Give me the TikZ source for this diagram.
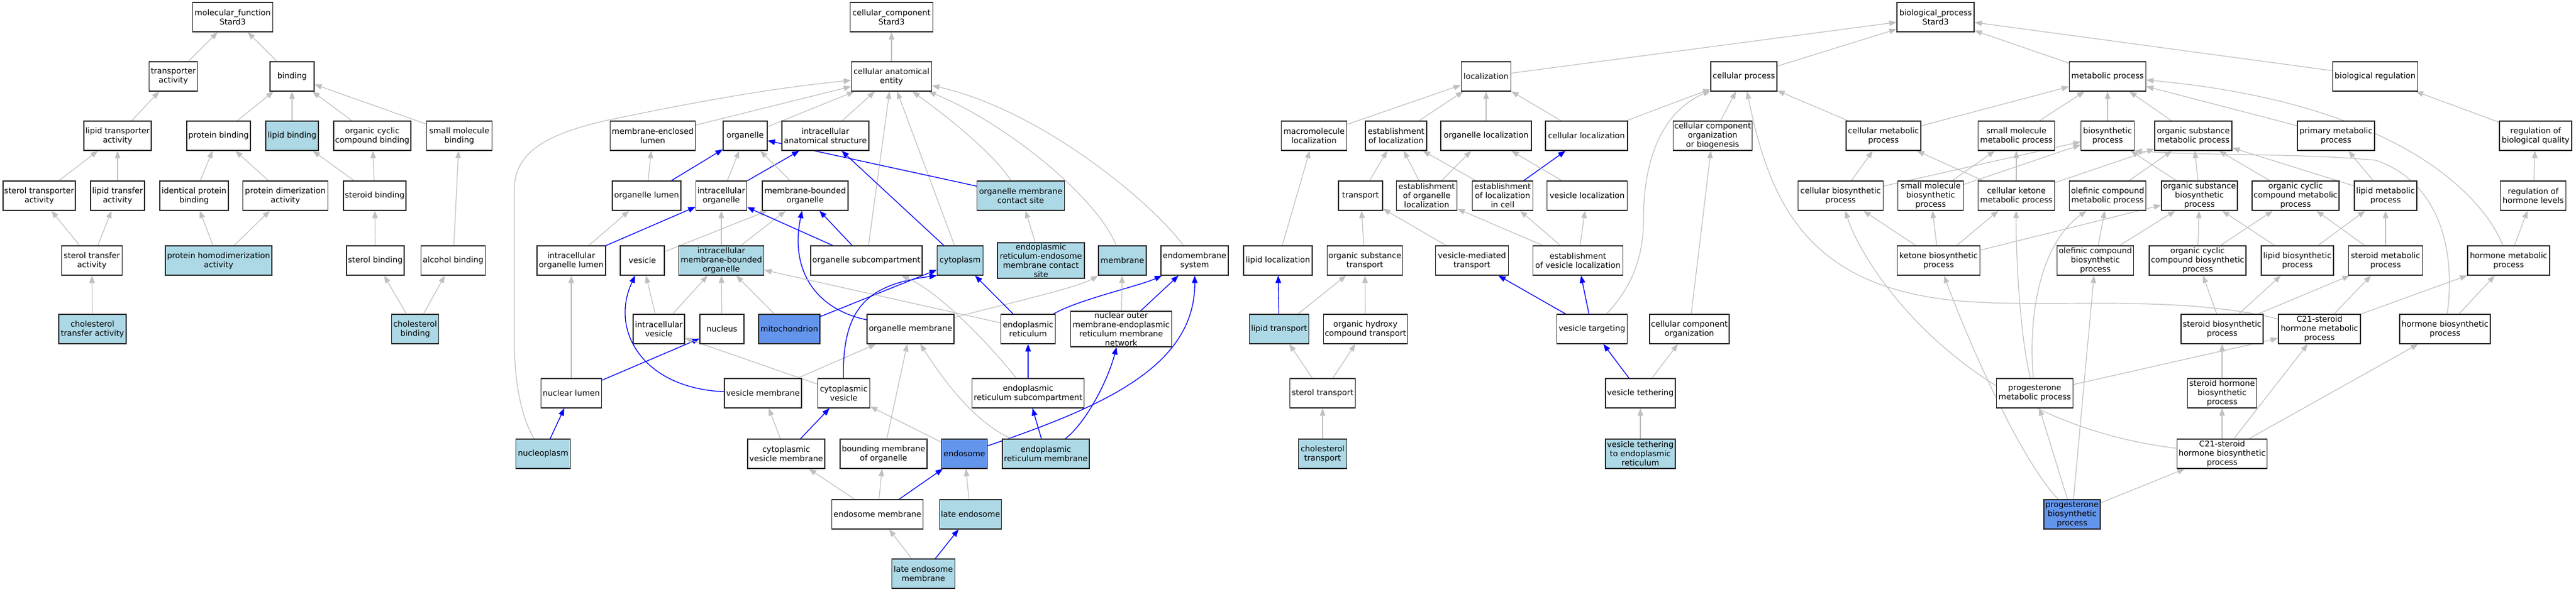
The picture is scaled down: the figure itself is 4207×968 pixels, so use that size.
\documentclass[tikz,border=0pt]{standalone}
\usepackage{fontspec}
\setmainfont{DejaVu Sans}
\usetikzlibrary{arrows.meta,backgrounds}
\definecolor{hitblue}{RGB}{173,216,230}
\definecolor{keyblue}{RGB}{100,149,237}
\definecolor{edgegray}{RGB}{192,192,192}
\newcommand\gofont{\fontsize{13}{15}\selectfont}

\begin{document}
\begin{tikzpicture}[x=1pt, y=-1pt,
    term/.style={draw=black!85, line width=1.2pt, fill=white, font=\gofont, align=center,
                 inner xsep=2pt, inner ysep=1.5pt, minimum height=48pt},
    hit/.style={term, fill=hitblue},
    key/.style={term, fill=keyblue},
    isa/.style={draw=edgegray, line width=1.2pt, -{Triangle[length=12pt,width=9pt]}},
    pof/.style={draw=blue, line width=1.3pt, -{Triangle[length=12pt,width=9pt]}}]
\useasboundingbox (0,0) rectangle (4207,968);

\node[term, minimum width=131pt] (mf) at (380,28) {molecular\_function\\Stard3};
\node[term, minimum width=79pt] (tact) at (283,125) {transporter\\activity};
\node[term, minimum width=72pt] (bind) at (477,125) {binding};
\node[term, minimum width=110pt] (ltact) at (192,222) {lipid transporter\\activity};
\node[term, minimum width=104pt] (pbind) at (357,222) {protein binding};
\node[hit, minimum width=86pt] (lbind) at (477,222) {lipid binding};
\node[term, minimum width=126pt] (occb) at (608,222) {organic cyclic\\compound binding};
\node[term, minimum width=107pt] (smb) at (750,222) {small molecule\\binding};
\node[term, minimum width=118pt] (stact) at (64,320) {sterol transporter\\activity};
\node[term, minimum width=88pt] (ltfa) at (192,320) {lipid transfer\\activity};
\node[term, minimum width=112pt] (ipb) at (317,320) {identical protein\\binding};
\node[term, minimum width=139pt] (pda) at (466,320) {protein dimerization\\activity};
\node[term, minimum width=102pt] (stb) at (612,320) {steroid binding};
\node[term, minimum width=99pt] (stta) at (150,426) {sterol transfer\\activity};
\node[hit, minimum width=174pt] (phda) at (357,426) {protein homodimerization\\activity};
\node[term, minimum width=94pt] (sb) at (613,426) {sterol binding};
\node[term, minimum width=105pt] (ab) at (740,426) {alcohol binding};
\node[hit, minimum width=110pt] (cta) at (151,538) {cholesterol\\transfer activity};
\node[hit, minimum width=77pt] (cb) at (678,538) {cholesterol\\binding};

\node[term, minimum width=135pt] (cc) at (1456,28) {cellular\_component\\Stard3};
\node[term, minimum width=131pt] (cae) at (1456,125) {cellular anatomical\\entity};
\node[term, minimum width=139pt] (mel) at (1066,222) {membrane-enclosed\\lumen};
\node[term, minimum width=72pt] (org) at (1217,222) {organelle};
\node[term, minimum width=142pt] (ias) at (1348,222) {intracellular\\anatomical structure};
\node[term, minimum width=112pt] (ol) at (1056,320) {organelle lumen};
\node[term, minimum width=83pt] (io) at (1178,320) {intracellular\\organelle};
\node[term, minimum width=140pt] (mbo) at (1315,320) {membrane-bounded\\organelle};
\node[hit, minimum width=143pt] (omcs) at (1667,320) {organelle membrane\\contact site};
\node[term, minimum width=112pt] (iol) at (933,426) {intracellular\\organelle lumen};
\node[term, minimum width=72pt] (ves) at (1049,426) {vesicle};
\node[hit, minimum width=139pt] (imbo) at (1178,426) {intracellular\\membrane-bounded\\organelle};
\node[term, minimum width=182pt] (osc) at (1415,426) {organelle subcompartment};
\node[hit, minimum width=75pt] (cyto) at (1568,426) {cytoplasm};
\node[hit, minimum width=142pt] (ereco) at (1700,426) {endoplasmic\\reticulum-endosome\\membrane contact\\site};
\node[hit, minimum width=78pt] (memb) at (1833,426) {membrane};
\node[term, minimum width=110pt] (ems) at (1951,426) {endomembrane\\system};
\node[term, minimum width=84pt] (iv) at (1076,538) {intracellular\\vesicle};
\node[term, minimum width=72pt] (nuc) at (1179,538) {nucleus};
\node[key, minimum width=100pt] (mito) at (1289,538) {mitochondrion};
\node[term, minimum width=142pt] (om) at (1487,538) {organelle membrane};
\node[term, minimum width=89pt] (er) at (1679,538) {endoplasmic\\reticulum};
\node[term, minimum width=165pt] (nomn) at (1831,538) {nuclear outer\\membrane-endoplasmic\\reticulum membrane\\network};
\node[term, minimum width=99pt] (nl) at (933,643) {nuclear lumen};
\node[term, minimum width=126pt] (vm) at (1246,643) {vesicle membrane};
\node[term, minimum width=85pt] (cv) at (1378,643) {cytoplasmic\\vesicle};
\node[term, minimum width=183pt] (ersc) at (1679,643) {endoplasmic\\reticulum subcompartment};
\node[hit, minimum width=89pt] (np) at (887,742) {nucleoplasm};
\node[term, minimum width=126pt] (cvm) at (1284,742) {cytoplasmic\\vesicle membrane};
\node[term, minimum width=142pt] (bmo) at (1443,742) {bounding membrane\\of organelle};
\node[key, minimum width=75pt] (endo) at (1575,742) {endosome};
\node[hit, minimum width=142pt] (erm) at (1708,742) {endoplasmic\\reticulum membrane};
\node[term, minimum width=149pt] (endom) at (1433,841) {endosome membrane};
\node[hit, minimum width=101pt] (le) at (1585,841) {late endosome};
\node[hit, minimum width=103pt] (lem) at (1508,938) {late endosome\\membrane};

\node[term, minimum width=126pt] (bp) at (3161,28) {biological\_process\\Stard3};
\node[term, minimum width=81pt] (loc) at (2427,125) {localization};
\node[term, minimum width=108pt] (cp) at (2848,125) {cellular process};
\node[term, minimum width=125pt] (metp) at (3442,125) {metabolic process};
\node[term, minimum width=139pt] (breg) at (3879,125) {biological regulation};
\node[term, minimum width=107pt] (macl) at (2146,222) {macromolecule\\localization};
\node[term, minimum width=100pt] (eol) at (2280,222) {establishment\\of localization};
\node[term, minimum width=148pt] (orgl) at (2427,222) {organelle localization};
\node[term, minimum width=134pt] (cl) at (2591,222) {cellular localization};
\node[term, minimum width=129pt] (ccob) at (2797,222) {cellular component\\organization\\or biogenesis};
\node[term, minimum width=122pt] (cmp) at (3076,222) {cellular metabolic\\process};
\node[term, minimum width=125pt] (smmp) at (3293,222) {small molecule\\metabolic process};
\node[term, minimum width=87pt] (bsp) at (3442,222) {biosynthetic\\process};
\node[term, minimum width=126pt] (osmp) at (3582,222) {organic substance\\metabolic process};
\node[term, minimum width=126pt] (pmp) at (3815,222) {primary metabolic\\process};
\node[term, minimum width=118pt] (rbq) at (4141,222) {regulation of\\biological quality};
\node[term, minimum width=72pt] (trans) at (2222,320) {transport};
\node[term, minimum width=99pt] (eool) at (2330,320) {establishment\\of organelle\\localization};
\node[term, minimum width=99pt] (eolic) at (2454,320) {establishment\\of localization\\in cell};
\node[term, minimum width=131pt] (vl) at (2592,320) {vesicle localization};
\node[term, minimum width=139pt] (cbp) at (3006,320) {cellular biosynthetic\\process};
\node[term, minimum width=107pt] (smbp) at (3153,320) {small molecule\\biosynthetic\\process};
\node[term, minimum width=125pt] (ckmp) at (3293,320) {cellular ketone\\metabolic process};
\node[term, minimum width=125pt] (ocmp) at (3442,320) {olefinic compound\\metabolic process};
\node[term, minimum width=124pt] (osbp) at (3592,320) {organic substance\\biosynthetic\\process};
\node[term, minimum width=142pt] (occmp) at (3749,320) {organic cyclic\\compound metabolic\\process};
\node[term, minimum width=102pt] (lmp) at (3896,320) {lipid metabolic\\process};
\node[term, minimum width=107pt] (rhl) at (4137,320) {regulation of\\hormone levels};
\node[term, minimum width=112pt] (ll) at (2087,426) {lipid localization};
\node[term, minimum width=123pt] (ost) at (2229,426) {organic substance\\transport};
\node[term, minimum width=119pt] (vmt) at (2404,426) {vesicle-mediated\\transport};
\node[term, minimum width=147pt] (evl) at (2577,426) {establishment\\of vesicle localization};
\node[term, minimum width=135pt] (kbp) at (3166,426) {ketone biosynthetic\\process};
\node[term, minimum width=125pt] (ocbp) at (3422,426) {olefinic compound\\biosynthetic\\process};
\node[term, minimum width=158pt] (occbp) at (3589,426) {organic cyclic\\compound biosynthetic\\process};
\node[term, minimum width=118pt] (lbp) at (3752,426) {lipid biosynthetic\\process};
\node[term, minimum width=121pt] (smp) at (3896,426) {steroid metabolic\\process};
\node[term, minimum width=134pt] (hmp) at (4097,426) {hormone metabolic\\process};
\node[hit, minimum width=97pt] (lt) at (2089,538) {lipid transport};
\node[term, minimum width=137pt] (ohct) at (2230,538) {organic hydroxy\\compound transport};
\node[term, minimum width=115pt] (vt) at (2600,538) {vesicle targeting};
\node[term, minimum width=130pt] (ccorg) at (2759,538) {cellular component\\organization};
\node[term, minimum width=134pt] (sbp) at (3629,538) {steroid biosynthetic\\process};
\node[term, minimum width=134pt] (c21mp) at (3788,538) {C21-steroid\\hormone metabolic\\process};
\node[term, minimum width=148pt] (hbp) at (3993,538) {hormone biosynthetic\\process};
\node[term, minimum width=107pt] (sttr) at (2160,643) {sterol transport};
\node[term, minimum width=114pt] (vteth) at (2679,643) {vesicle tethering};
\node[term, minimum width=125pt] (pmetp) at (3323,643) {progesterone\\metabolic process};
\node[term, minimum width=113pt] (shbp) at (3629,643) {steroid hormone\\biosynthetic\\process};
\node[hit, minimum width=79pt] (ctr) at (2160,742) {cholesterol\\transport};
\node[hit, minimum width=114pt] (vter) at (2679,742) {vesicle tethering\\to endoplasmic\\reticulum};
\node[term, minimum width=147pt] (c21bp) at (3629,742) {C21-steroid\\hormone biosynthetic\\process};
\node[key, minimum width=92pt] (pbp) at (3384,841) {progesterone\\biosynthetic\\process};

\begin{scope}[on background layer]
\draw[isa] (tact) -- (mf);
\draw[isa] (bind) -- (mf);
\draw[isa] (ltact) -- (tact);
\draw[isa] (pbind) -- (bind);
\draw[isa] (lbind) -- (bind);
\draw[isa] (occb) -- (bind);
\draw[isa] (smb) -- (bind);
\draw[isa] (stact) -- (ltact);
\draw[isa] (ltfa) -- (ltact);
\draw[isa] (ipb) -- (pbind);
\draw[isa] (pda) -- (pbind);
\draw[isa] (stb) -- (lbind);
\draw[isa] (stb) -- (occb);
\draw[isa] (stta) -- (stact);
\draw[isa] (stta) -- (ltfa);
\draw[isa] (phda) -- (ipb);
\draw[isa] (phda) -- (pda);
\draw[isa] (sb) -- (stb);
\draw[isa] (ab) -- (smb);
\draw[isa] (cta) -- (stta);
\draw[isa] (cb) -- (sb);
\draw[isa] (cb) -- (ab);

\draw[isa] (cae) -- (cc);
\draw[isa] (mel) -- (cae);
\draw[isa] (org) -- (cae);
\draw[isa] (ias) -- (cae);
\draw[isa] (osc) -- (cae);
\draw[isa] (cyto) -- (cae);
\draw[isa] (omcs) .. controls (1625,255) and (1560,200) .. (cae);
\draw[isa] (memb) .. controls (1790,320) and (1640,200) .. (cae);
\draw[isa] (ems) .. controls (1880,330) and (1700,180) .. (cae);
\draw[isa] (np) .. controls (850,680) and (840,620) .. (840,560) -- (840,310)
  .. controls (840,250) and (890,220) .. (990,197) .. controls (1120,170) and (1250,145) .. (cae);
\draw[isa] (ol) -- (mel);
\draw[pof] (ol) -- (org);
\draw[isa] (io) -- (org);
\draw[pof] (io) -- (ias);
\draw[isa] (mbo) -- (org);
\draw[pof] (omcs) -- (org);
\draw[pof] (cyto) -- (ias);
\draw[isa] (iol) -- (ol);
\draw[pof] (iol) -- (io);
\draw[isa] (ves) -- (mbo);
\draw[isa] (imbo) -- (io);
\draw[isa] (imbo) -- (mbo);
\draw[pof] (osc) -- (io);
\draw[pof] (osc) -- (mbo);
\draw[isa] (ereco) -- (omcs);
\draw[isa] (iv) -- (ves);
\draw[isa] (iv) -- (imbo);
\draw[isa] (nuc) -- (imbo);
\draw[isa] (mito) -- (imbo);
\draw[pof] (mito) -- (cyto);
\draw[pof] (om) .. controls (1330,505) and (1290,440) .. (mbo);
\draw[isa] (om) .. controls (1650,495) and (1760,470) .. (memb.south west);
\draw[isa] (er) -- (imbo);
\draw[pof] (er) -- (cyto);
\draw[pof] (er) .. controls (1760,490) and (1860,468) .. (ems);
\draw[isa] (nomn) -- (memb);
\draw[pof] (nomn) -- (ems);
\draw[isa] (nl) -- (iol);
\draw[pof] (nl) -- (nuc);
\draw[pof] (vm) .. controls (1050,635) and (995,540) .. (ves);
\draw[isa] (vm) -- (om);
\draw[isa] (cv) -- (iv);
\draw[pof] (cv) .. controls (1375,500) and (1420,465) .. (cyto.south west);
\draw[isa] (ersc) .. controls (1630,580) and (1540,480) .. (osc);
\draw[pof] (ersc) -- (er);
\draw[pof] (np) -- (nl);
\draw[isa] (cvm) -- (vm);
\draw[pof] (cvm) -- (cv);
\draw[isa] (bmo) -- (om);
\draw[isa] (endo) -- (cv);
\draw[pof] (endo) .. controls (1800,665) and (1952,600) .. (ems);
\draw[pof] (erm) -- (ersc);
\draw[pof] (erm) .. controls (1775,690) and (1810,620) .. (nomn);
\draw[isa] (erm) .. controls (1590,690) and (1540,620) .. (om);
\draw[isa] (endom) -- (cvm);
\draw[isa] (endom) -- (bmo);
\draw[pof] (endom) -- (endo);
\draw[isa] (le) -- (endo);
\draw[isa] (lem) -- (endom);
\draw[pof] (lem) -- (le);

\draw[isa] (loc) -- (bp);
\draw[isa] (cp) -- (bp);
\draw[isa] (metp) -- (bp);
\draw[isa] (breg) -- (bp);
\draw[isa] (macl) -- (loc);
\draw[isa] (eol) -- (loc);
\draw[isa] (orgl) -- (loc);
\draw[isa] (cl) -- (loc);
\draw[isa] (cl) -- (cp);
\draw[isa] (ccob) -- (cp);
\draw[isa] (cmp) -- (cp);
\draw[isa] (cmp) -- (metp);
\draw[isa] (smmp) -- (metp);
\draw[isa] (bsp) -- (metp);
\draw[isa] (osmp) -- (metp);
\draw[isa] (pmp) -- (metp);
\draw[isa] (hmp) .. controls (4060,330) and (3930,170) .. (metp);
\draw[isa] (rbq) -- (breg);
\draw[isa] (trans) -- (eol);
\draw[isa] (eool) -- (eol);
\draw[isa] (eolic) -- (eol);
\draw[isa] (eool) -- (orgl);
\draw[pof] (eolic) -- (cl);
\draw[isa] (vl) -- (orgl);
\draw[isa] (cbp) -- (cmp);
\draw[isa] (cbp) -- (bsp);
\draw[isa] (smbp) -- (smmp);
\draw[isa] (smbp) -- (bsp);
\draw[isa] (ckmp) -- (cmp);
\draw[isa] (ckmp) -- (smmp);
\draw[isa] (ckmp) -- (osmp);
\draw[isa] (ocmp) -- (osmp);
\draw[isa] (osbp) -- (osmp);
\draw[isa] (osbp) -- (bsp);
\draw[isa] (occmp) -- (osmp);
\draw[isa] (lmp) -- (pmp);
\draw[isa] (lmp) -- (osmp);
\draw[isa] (rhl) -- (rbq);
\draw[isa] (ll) -- (macl);
\draw[isa] (ost) -- (trans);
\draw[isa] (vmt) -- (trans);
\draw[isa] (evl) -- (eool);
\draw[isa] (evl) -- (eolic);
\draw[isa] (evl) -- (vl);
\draw[isa] (kbp) -- (cbp);
\draw[isa] (kbp) -- (smbp);
\draw[isa] (kbp) -- (ckmp);
\draw[isa] (kbp) -- (osbp);
\draw[isa] (ocbp) -- (ocmp);
\draw[isa] (ocbp) -- (osbp);
\draw[isa] (occbp) -- (osbp);
\draw[isa] (occbp) -- (occmp);
\draw[isa] (lbp) -- (osbp);
\draw[isa] (lbp) -- (lmp);
\draw[isa] (smp) -- (occmp);
\draw[isa] (smp) -- (lmp);
\draw[isa] (hmp) -- (rhl);
\draw[pof] (lt) -- (ll);
\draw[isa] (lt) -- (ost);
\draw[isa] (ohct) -- (ost);
\draw[pof] (vt) -- (vmt);
\draw[pof] (vt) -- (evl);
\draw[isa] (vt) .. controls (2665,470) and (2684,420) .. (2684,360)
  .. controls (2684,250) and (2720,180) .. (cp);
\draw[isa] (ccorg) -- (ccob);
\draw[isa] (sbp) -- (occbp);
\draw[isa] (sbp) -- (lbp);
\draw[isa] (sbp) -- (smp);
\draw[isa] (c21mp) -- (smp);
\draw[isa] (c21mp) -- (hmp);
\draw[isa] (c21mp) .. controls (3550,480) and (3350,505) .. (3200,492)
  .. controls (2950,470) and (2890,330) .. (cp);
\draw[isa] (hbp) -- (hmp);
\draw[isa] (hbp) .. controls (4010,420) and (3990,300) .. (3880,262)
  .. controls (3750,250) and (3600,255) .. (bsp.south east);
\draw[isa] (sttr) -- (lt);
\draw[isa] (sttr) -- (ohct);
\draw[pof] (vteth) -- (vt);
\draw[isa] (vteth) -- (ccorg);
\draw[isa] (pmetp) .. controls (3300,560) and (3292,420) .. (ckmp);
\draw[isa] (pmetp) .. controls (3312,520) and (3330,400) .. (ocmp);
\draw[isa] (pmetp) -- (c21mp);
\draw[isa] (shbp) -- (sbp);
\draw[isa] (ctr) -- (sttr);
\draw[isa] (vter) -- (vteth);
\draw[isa] (c21bp) -- (shbp);
\draw[isa] (c21bp) -- (c21mp);
\draw[isa] (c21bp) -- (hbp);
\draw[isa] (c21bp) .. controls (3200,690) and (3040,430) .. (cbp);
\draw[isa] (pbp) -- (pmetp);
\draw[isa] (pbp) -- (ocbp);
\draw[isa] (pbp) -- (c21bp);
\draw[isa] (pbp) .. controls (3290,740) and (3200,520) .. (kbp);
\end{scope}
\end{tikzpicture}
\end{document}
